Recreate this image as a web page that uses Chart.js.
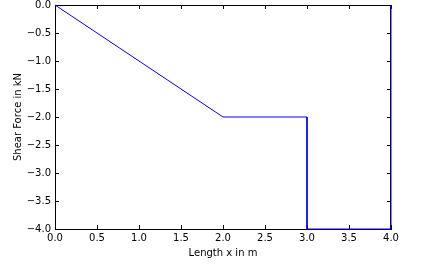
<!DOCTYPE html>
<html lang="en">
<head>
<meta charset="UTF-8">
<title>Shear Force</title>
<style>
    html, body { margin: 0; padding: 0; background: #fff; }
    #wrap { width: 426px; height: 273px; }
</style>
</head>
<body>
<div id="wrap"><canvas id="chart" width="426" height="273"></canvas></div>
<script src="https://cdn.jsdelivr.net/npm/chart.js"></script>
<script>
// Shear force along the beam
const lengthX = [0, 2, 3, 3, 4, 4];
const shearForce = [0, -2, -2, -4, -4, 0];
const xTicks = [0, 0.5, 1, 1.5, 2, 2.5, 3, 3.5, 4];
const yTicks = [0, -0.5, -1, -1.5, -2, -2.5, -3, -3.5, -4];

const fmt = v => v.toFixed(1).replace('-', '\u2212');

// matplotlib style frame with ticks pointing inward on all four sides
const innerTicks = {
    id: 'innerTicks',
    beforeDatasetsDraw(chart) {
        const c = chart.ctx, a = chart.chartArea;
        const sx = chart.scales.x, sy = chart.scales.y;
        c.save();
        c.strokeStyle = '#000';
        c.lineWidth = 1;
        c.beginPath();
        c.moveTo(a.left, a.top + 0.5); c.lineTo(a.right, a.top + 0.5);
        c.moveTo(a.right - 0.5, a.top); c.lineTo(a.right - 0.5, a.bottom);
        xTicks.forEach(v => {
            const px = Math.round(sx.getPixelForValue(v)) + 0.5;
            c.moveTo(px, a.bottom); c.lineTo(px, a.bottom - 4);
            c.moveTo(px, a.top); c.lineTo(px, a.top + 4);
        });
        yTicks.forEach(v => {
            const py = Math.round(sy.getPixelForValue(v)) + 0.5;
            c.moveTo(a.left, py); c.lineTo(a.left + 4, py);
            c.moveTo(a.right, py); c.lineTo(a.right - 4, py);
        });
        c.stroke();
        c.restore();
    }
};

Chart.defaults.font.family = 'DejaVu Sans';
Chart.defaults.font.size = 10;
Chart.defaults.color = '#000';

new Chart(document.getElementById('chart'), {
    type: 'scatter',
    data: {
        datasets: [{
            data: lengthX.map((x, i) => ({ x: x, y: shearForce[i] })),
            showLine: true,
            borderColor: '#0000ff',
            borderWidth: 1,
            pointRadius: 0,
            tension: 0,
            clip: false
        }]
    },
    options: {
        responsive: false,
        animation: false,
        layout: { padding: { left: 0, right: 35, top: 0, bottom: 0 } },
        plugins: { legend: { display: false }, tooltip: { enabled: false } },
        scales: {
            x: {
                type: 'linear', min: 0, max: 4,
                afterBuildTicks: s => { s.ticks = xTicks.map(v => ({ value: v })); },
                afterFit: s => { s.height = 44; },
                ticks: { callback: fmt, padding: 3, maxRotation: 0, autoSkip: false },
                grid: { drawOnChartArea: false, drawTicks: false },
                border: { color: '#000', width: 1 },
                title: { display: true, text: 'Length x in m', padding: { top: 2, bottom: 14 } }
            },
            y: {
                type: 'linear', min: -4, max: 0,
                afterBuildTicks: s => { s.ticks = yTicks.map(v => ({ value: v })); },
                afterFit: s => { s.width = 55; s.paddingTop = 5; },
                ticks: { callback: fmt, padding: 4, autoSkip: false },
                grid: { drawOnChartArea: false, drawTicks: false },
                border: { color: '#000', width: 1 },
                title: { display: true, text: 'Shear Force in kN', padding: { top: 12, bottom: 2 } }
            }
        }
    },
    plugins: [innerTicks]
});
</script>
</body>
</html>
